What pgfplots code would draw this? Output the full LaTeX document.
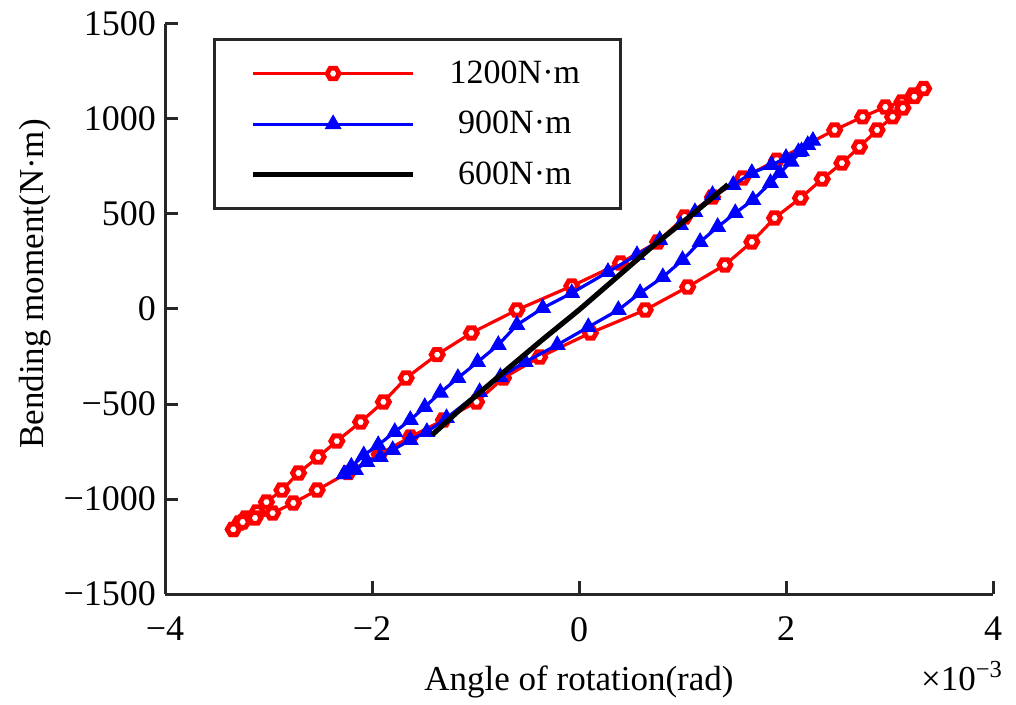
\documentclass[border=0pt]{standalone}
\usepackage{fontspec}
\setmainfont{Liberation Serif}
\usepackage{pgfplots}
\pgfplotsset{compat=1.18}

\pgfdeclareplotmark{hex}{%
  \pgfpathmoveto{\pgfpointpolar{0}{\pgfplotmarksize}}%
  \pgfpathlineto{\pgfpointpolar{60}{\pgfplotmarksize}}%
  \pgfpathlineto{\pgfpointpolar{120}{\pgfplotmarksize}}%
  \pgfpathlineto{\pgfpointpolar{180}{\pgfplotmarksize}}%
  \pgfpathlineto{\pgfpointpolar{240}{\pgfplotmarksize}}%
  \pgfpathlineto{\pgfpointpolar{300}{\pgfplotmarksize}}%
  \pgfpathclose
  \pgfusepathqfillstroke}

\begin{document}
\begin{tikzpicture}
\begin{axis}[
  scale only axis,
  width=414pt, height=285pt,
  xmin=-4, xmax=4, ymin=-1500, ymax=1500,
  clip mode=individual,
  axis x line=bottom, axis y line=left,
  axis line style={-, line width=1.5pt, color=black!85},
  every tick/.style={line width=1.5pt, color=black!85},
  major tick length=6.5pt,
  tick align=inside,
  xtick={-4,-2,0,2,4},
  xticklabels={−4,−2,0,2,4},
  ytick={-1500,-1000,-500,0,500,1000,1500},
  yticklabels={−1500,−1000,−500,0,500,1000,1500},
  font=\fontsize{17.5}{21}\selectfont,
  ticklabel style={font=\fontsize{18}{21}\selectfont},
  xticklabel style={yshift=-8pt},
  yticklabel style={xshift=-1pt},
  xlabel={Angle of rotation(rad)},
  xlabel style={at={(axis description cs:0.5,0)}, anchor=base, yshift=-48pt},
  ylabel={Bending moment(N·m)},
  ylabel style={at={(axis description cs:-0.157,0.544)}, anchor=center},
  legend style={at={(axis description cs:0.058,0.975)}, anchor=north west,
    draw=black!85, line width=1.5pt, inner xsep=18pt, inner ysep=8.5pt,
    row sep=8.5pt, column sep=15pt, font=\fontsize{17}{20}\selectfont},
  legend cell align=center,
  legend image code/.code={%
    \draw[mark repeat=2, mark phase=2, #1] plot coordinates {(0pt,0pt) (40pt,0pt) (80pt,0pt)};},
]

% 1200 N.m
\addplot[red, line width=1.6pt, mark=hex, mark size=3pt,
  mark options={fill=white, line width=2.4pt}] coordinates {
  (-3.34,-1160) (-3.28,-1126) (-3.22,-1100) (-3.11,-1068) (-3.02,-1016)
  (-2.87,-953) (-2.71,-863) (-2.52,-779) (-2.34,-695) (-2.11,-595)
  (-1.89,-489) (-1.67,-363) (-1.37,-240) (-1.04,-126) (-0.60,-5)
  (-0.07,121) (0.40,242) (0.76,353) (1.02,484) (1.29,589) (1.58,689)
  (1.91,783) (2.47,942) (2.74,1011) (2.96,1063) (3.12,1089) (3.23,1126)
  (3.33,1160)
  (3.24,1118) (3.13,1058) (3.03,1011) (2.88,942) (2.71,853) (2.54,768)
  (2.35,684) (2.14,584) (1.89,479) (1.67,353) (1.41,232) (1.05,116)
  (0.64,-5) (0.11,-126) (-0.38,-253) (-0.73,-363) (-0.99,-489)
  (-1.31,-584) (-1.63,-674) (-1.93,-765) (-2.23,-860) (-2.53,-953)
  (-2.76,-1021) (-2.96,-1074) (-3.13,-1100) (-3.25,-1121) (-3.34,-1160)
};
\addlegendentry{1200N·m}

% 900 N.m
\addplot[blue, line width=1.6pt, mark=triangle*, mark size=4.4pt,
  mark options={line width=0.5pt}] coordinates {
  (-2.27,-870) (-2.20,-830) (-2.08,-770) (-1.94,-716) (-1.78,-647)
  (-1.63,-584) (-1.49,-516) (-1.34,-440) (-1.17,-363) (-0.98,-279)
  (-0.78,-189) (-0.60,-84) (-0.35,5) (-0.07,84) (0.28,195) (0.56,284)
  (0.78,363) (0.98,442) (1.12,510) (1.29,600) (1.49,653) (1.67,716)
  (1.86,758) (2.00,795) (2.12,826) (2.21,863) (2.26,885)
  (2.15,830) (2.05,775) (1.94,716) (1.85,663) (1.68,574) (1.51,505)
  (1.34,432) (1.17,353) (1.00,258) (0.81,168) (0.59,84) (0.38,-5)
  (0.09,-95) (-0.21,-189) (-0.52,-279) (-0.76,-358) (-0.96,-437)
  (-1.28,-574) (-1.47,-647) (-1.63,-689) (-1.80,-742) (-1.92,-779)
  (-2.05,-805) (-2.16,-847) (-2.27,-870)
};
\addlegendentry{900N·m}

% 600 N.m
\addplot[black, line width=2.6pt] coordinates {
  (-1.42,-663) (-1.1,-505) (-0.7,-320) (-0.35,-160) (0,-5)
  (0.35,160) (0.7,325) (1.1,500) (1.44,655)
};
\addlegendentry{600N·m}

\node[anchor=base east] at ([xshift=8.5pt, yshift=-48pt]rel axis cs:1,0) {×10\textsuperscript{−3}};
\coordinate (bl) at ([xshift=-82.5pt, yshift=-52pt]rel axis cs:0,0);
\coordinate (tr) at ([xshift=11.5pt, yshift=12pt]rel axis cs:1,1);
\end{axis}
\useasboundingbox (bl) rectangle (tr);
\end{tikzpicture}
\end{document}
